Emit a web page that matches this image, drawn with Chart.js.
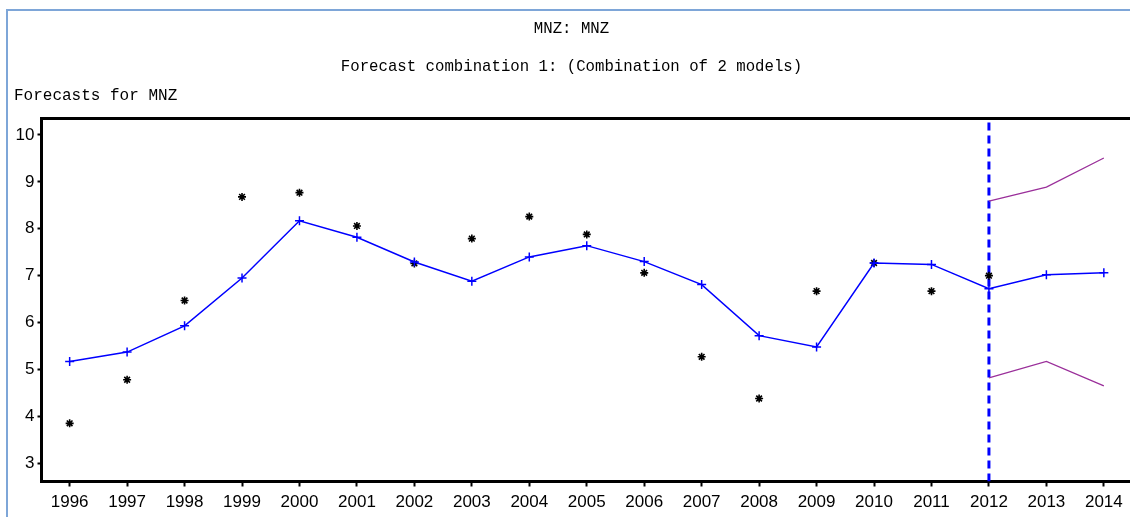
<!DOCTYPE html>
<html><head><meta charset="utf-8">
<script src="https://cdn.jsdelivr.net/npm/chart.js@4.4.1/dist/chart.umd.min.js"></script>
<style>
html,body{margin:0;padding:0;background:#fff;overflow:hidden;width:1130px;height:517px;}
#wrap{position:relative;width:1130px;height:517px;overflow:hidden;background:#fff;}
canvas{position:absolute;left:0;top:0;}
#frame{position:absolute;left:6px;top:9px;width:1200px;height:600px;border-left:2px solid #7ea6d8;border-top:2px solid #7ea6d8;pointer-events:none;}
#ylab{position:absolute;left:14px;top:87px;font:16px "Liberation Mono",monospace;line-height:18px;color:#000;white-space:pre;}
</style></head><body>
<div id="wrap"><canvas id="c" width="1143" height="517"></canvas><div id="frame"></div><div id="ylab">Forecasts for MNZ</div></div>
<script>
// ---- data ----
const years = [1996,1997,1998,1999,2000,2001,2002,2003,2004,2005,2006,2007,2008,2009,2010,2011,2012,2013,2014];
const actualYears = [1996,1997,1998,1999,2000,2001,2002,2003,2004,2005,2006,2007,2008,2009,2010,2011,2012];
const actual = [3.85,4.78,6.47,8.68,8.77,8.06,7.26,7.79,8.26,7.88,7.06,5.27,4.38,6.67,7.27,6.67,7.00];
const combined = [5.17,5.37,5.93,6.95,8.17,7.82,7.29,6.88,7.40,7.64,7.30,6.81,5.72,5.48,7.27,7.24,6.72,7.02,7.06];
const bandYears = [2012,2013,2014];
const upperBand = [8.59,8.89,9.51];
const lowerBand = [4.82,5.17,4.65];
const forecastStart = 2012;
const yTickValues = [3,4,5,6,7,8,9,10];
const xTickValues = years;
const yMin = 2.61, yMax = 10.35;
const xMin = 1995.51, xMax = 2014.49;

const pts = (xs, ys) => xs.map((x, i) => ({x: x, y: ys[i]}));
const tickFont = {family: "'Liberation Sans', Arial, sans-serif", size: 17};
const titleFont = {family: "'Liberation Mono', monospace", size: 15.7, weight: 'normal'};

new Chart(document.getElementById('c'), {
  type: 'line',
  data: {
    datasets: [
      {
        label: 'Combined forecast',
        data: pts(years, combined),
        borderColor: '#0000ff', backgroundColor: '#0000ff',
        borderWidth: 1.5, pointStyle: 'cross', pointRadius: 4.5,
        pointBorderWidth: 1.5, pointBorderColor: '#0000ff', tension: 0, fill: false
      },
      {
        label: 'Actual',
        data: pts(actualYears, actual),
        showLine: false,
        pointStyle: 'star', pointRadius: 4, pointBorderWidth: 1.6,
        pointBorderColor: '#000', pointBackgroundColor: '#000', borderColor: '#000'
      },
      {
        label: 'Upper bound',
        data: pts(bandYears, upperBand),
        borderColor: '#9a2f9a', borderWidth: 1.3, pointRadius: 0, tension: 0, fill: false
      },
      {
        label: 'Lower bound',
        data: pts(bandYears, lowerBand),
        borderColor: '#9a2f9a', borderWidth: 1.3, pointRadius: 0, tension: 0, fill: false
      },
      {
        label: 'Forecast start',
        data: [{x: forecastStart, y: yMin}, {x: forecastStart, y: yMax}],
        borderColor: '#0000ff', borderWidth: 3, borderDash: [8, 5],
        pointRadius: 0, fill: false
      }
    ]
  },
  options: {
    responsive: false,
    devicePixelRatio: 1,
    animation: false,
    layout: {padding: {left: 11, right: 11, top: 0, bottom: 0}},
    plugins: {
      legend: {display: false},
      tooltip: {enabled: false},
      title: {display: true, text: 'MNZ: MNZ', color: '#000', font: titleFont, padding: {top: 19.6, bottom: 0}},
      subtitle: {display: true, text: 'Forecast combination 1: (Combination of 2 models)', color: '#000', font: titleFont, padding: {top: 19.2, bottom: 42.1}}
    },
    scales: {
      x: {
        type: 'linear', position: 'bottom', min: xMin, max: xMax,
        afterBuildTicks: s => { s.ticks = xTickValues.map(v => ({value: v})); },
        afterFit: s => { s.height = 35.5; },
        ticks: {color: '#000', font: tickFont, padding: 6, maxRotation: 0, autoSkip: false, callback: v => String(v)},
        grid: {display: true, drawOnChartArea: false, drawTicks: true, tickLength: 5, tickWidth: 2, tickColor: '#000'},
        border: {display: true, color: '#000', width: 3}
      },
      xTop: {
        type: 'linear', position: 'top', min: xMin, max: xMax,
        afterFit: s => { s.height = 0; },
        ticks: {display: false},
        grid: {display: false},
        border: {display: true, color: '#000', width: 3}
      },
      y: {
        type: 'linear', min: yMin, max: yMax,
        afterBuildTicks: s => { s.ticks = yTickValues.map(v => ({value: v})); },
        afterFit: s => { s.width = 30.5; },
        ticks: {color: '#000', font: tickFont, padding: 3, callback: v => String(v)},
        grid: {display: true, drawOnChartArea: false, drawTicks: true, tickLength: 4, tickWidth: 2, tickColor: '#000'},
        border: {display: true, color: '#000', width: 3}
      }
    }
  }
});
</script>
</body></html>
